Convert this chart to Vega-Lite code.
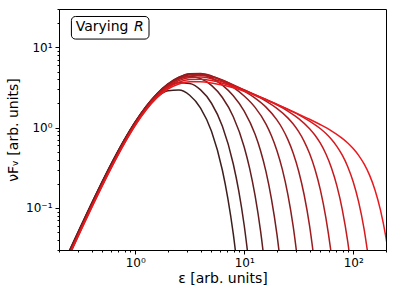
{
"$schema": "https://vega.github.io/schema/vega-lite/v6.json",
"width": 327, "height": 241,
"autosize": {"type": "none"},
"padding": {"left": 59, "top": 9, "right": 9, "bottom": 46},
"config": {"view": {"stroke": "#000", "strokeWidth": 1}, "font": "DejaVu Sans",
  "axis": {"grid": false, "domainColor": "#000", "domainWidth": 1, "tickColor": "#000", "tickWidth": 1, "labelColor": "#000", "labelFont": "DejaVu Sans", "labelFontSize": 12, "labelPadding": 3, "labelOverlap": false, "labelFlush": false, "titleFont": "DejaVu Sans", "titleFontSize": 14, "titleFontWeight": "normal", "titleColor": "#000"}},
"datasets": {
"curves": [
{"k":0,"x":0.2239,"y":0.02158},{"k":0,"x":0.3162,"y":0.05916},{"k":0,"x":0.4467,"y":0.1581},{"k":0,"x":0.631,"y":0.399},{"k":0,"x":0.7943,"y":0.7031},{"k":0,"x":1,"y":1.164},{"k":0,"x":1.259,"y":1.77},{"k":0,"x":1.585,"y":2.41},{"k":0,"x":1.995,"y":2.877},{"k":0,"x":2.512,"y":2.944},{"k":0,"x":3.162,"y":2.535},{"k":0,"x":3.981,"y":1.754},{"k":0,"x":5.012,"y":0.8995},{"k":0,"x":6.31,"y":0.2951},{"k":0,"x":7.079,"y":0.1321},{"k":0,"x":7.943,"y":0.04764},{"k":0,"x":8.913,"y":0.01285},
{"k":1,"x":0.2239,"y":0.02128},{"k":1,"x":0.3162,"y":0.05834},{"k":1,"x":0.4467,"y":0.1563},{"k":1,"x":0.631,"y":0.3963},{"k":1,"x":0.7943,"y":0.7031},{"k":1,"x":1,"y":1.176},{"k":1,"x":1.259,"y":1.819},{"k":1,"x":1.585,"y":2.565},{"k":1,"x":1.995,"y":3.236},{"k":1,"x":2.512,"y":3.615},{"k":1,"x":3.162,"y":3.54},{"k":1,"x":3.981,"y":2.951},{"k":1,"x":5.012,"y":2.013},{"k":1,"x":6.31,"y":1.04},{"k":1,"x":7.943,"y":0.3531},{"k":1,"x":8.913,"y":0.1632},{"k":1,"x":10,"y":0.06097},{"k":1,"x":11.22,"y":0.01715},
{"k":2,"x":0.2239,"y":0.02099},{"k":2,"x":0.3162,"y":0.05768},{"k":2,"x":0.4467,"y":0.1543},{"k":2,"x":0.631,"y":0.3931},{"k":2,"x":0.7943,"y":0.699},{"k":2,"x":1,"y":1.177},{"k":2,"x":1.259,"y":1.841},{"k":2,"x":1.585,"y":2.645},{"k":2,"x":1.995,"y":3.454},{"k":2,"x":2.512,"y":4.073},{"k":2,"x":3.162,"y":4.322},{"k":2,"x":3.981,"y":4.074},{"k":2,"x":5.012,"y":3.363},{"k":2,"x":6.31,"y":2.372},{"k":2,"x":7.943,"y":1.368},{"k":2,"x":10,"y":0.5754},{"k":2,"x":11.22,"y":0.3114},{"k":2,"x":12.59,"y":0.1423},{"k":2,"x":14.13,"y":0.05179},{"k":2,"x":15.85,"y":0.01403},
{"k":3,"x":0.2239,"y":0.02065},{"k":3,"x":0.3162,"y":0.05675},{"k":3,"x":0.4467,"y":0.1521},{"k":3,"x":0.631,"y":0.3873},{"k":3,"x":0.7943,"y":0.6902},{"k":3,"x":1,"y":1.164},{"k":3,"x":1.259,"y":1.832},{"k":3,"x":1.585,"y":2.649},{"k":3,"x":1.995,"y":3.507},{"k":3,"x":2.512,"y":4.241},{"k":3,"x":3.162,"y":4.663},{"k":3,"x":3.981,"y":4.633},{"k":3,"x":5.012,"y":4.156},{"k":3,"x":6.31,"y":3.384},{"k":3,"x":7.943,"y":2.494},{"k":3,"x":10,"y":1.607},{"k":3,"x":12.59,"y":0.8255},{"k":3,"x":14.13,"y":0.516},{"k":3,"x":15.85,"y":0.2832},{"k":3,"x":17.78,"y":0.1301},{"k":3,"x":19.95,"y":0.04764},{"k":3,"x":22.39,"y":0.01268},
{"k":4,"x":0.2239,"y":0.02032},{"k":4,"x":0.3162,"y":0.05585},{"k":4,"x":0.4467,"y":0.1496},{"k":4,"x":0.631,"y":0.3815},{"k":4,"x":0.7943,"y":0.6792},{"k":4,"x":1,"y":1.149},{"k":4,"x":1.259,"y":1.805},{"k":4,"x":1.585,"y":2.614},{"k":4,"x":1.995,"y":3.469},{"k":4,"x":2.512,"y":4.21},{"k":4,"x":3.162,"y":4.673},{"k":4,"x":3.981,"y":4.732},{"k":4,"x":5.012,"y":4.408},{"k":4,"x":6.31,"y":3.835},{"k":4,"x":7.943,"y":3.166},{"k":4,"x":10,"y":2.479},{"k":4,"x":12.59,"y":1.788},{"k":4,"x":15.85,"y":1.109},{"k":4,"x":17.78,"y":0.7943},{"k":4,"x":19.95,"y":0.5206},{"k":4,"x":22.39,"y":0.302},{"k":4,"x":25.12,"y":0.1486},{"k":4,"x":28.18,"y":0.05861},{"k":4,"x":31.62,"y":0.01722},
{"k":5,"x":0.2239,"y":0.02004},{"k":5,"x":0.3162,"y":0.05508},{"k":5,"x":0.4467,"y":0.1476},{"k":5,"x":0.631,"y":0.3763},{"k":5,"x":0.7943,"y":0.6699},{"k":5,"x":1,"y":1.132},{"k":5,"x":1.259,"y":1.777},{"k":5,"x":1.585,"y":2.574},{"k":5,"x":1.995,"y":3.401},{"k":5,"x":2.512,"y":4.11},{"k":5,"x":3.162,"y":4.553},{"k":5,"x":3.981,"y":4.634},{"k":5,"x":5.012,"y":4.378},{"k":5,"x":6.31,"y":3.915},{"k":5,"x":7.943,"y":3.38},{"k":5,"x":10,"y":2.849},{"k":5,"x":12.59,"y":2.33},{"k":5,"x":15.85,"y":1.8},{"k":5,"x":19.95,"y":1.249},{"k":5,"x":22.39,"y":0.9763},{"k":5,"x":25.12,"y":0.715},{"k":5,"x":28.18,"y":0.4808},{"k":5,"x":31.62,"y":0.2871},{"k":5,"x":35.48,"y":0.1461},{"k":5,"x":39.81,"y":0.05998},{"k":5,"x":44.67,"y":0.01841},
{"k":6,"x":0.2239,"y":0.01972},{"k":6,"x":0.3162,"y":0.0542},{"k":6,"x":0.4467,"y":0.1452},{"k":6,"x":0.631,"y":0.3703},{"k":6,"x":0.7943,"y":0.6592},{"k":6,"x":1,"y":1.114},{"k":6,"x":1.259,"y":1.747},{"k":6,"x":1.585,"y":2.523},{"k":6,"x":1.995,"y":3.325},{"k":6,"x":2.512,"y":3.994},{"k":6,"x":3.162,"y":4.399},{"k":6,"x":3.981,"y":4.477},{"k":6,"x":5.012,"y":4.259},{"k":6,"x":6.31,"y":3.858},{"k":6,"x":7.943,"y":3.403},{"k":6,"x":10,"y":2.957},{"k":6,"x":12.59,"y":2.542},{"k":6,"x":15.85,"y":2.141},{"k":6,"x":19.95,"y":1.738},{"k":6,"x":25.12,"y":1.324},{"k":6,"x":28.18,"y":1.108},{"k":6,"x":31.62,"y":0.8913},{"k":6,"x":35.48,"y":0.6761},{"k":6,"x":39.81,"y":0.4764},{"k":6,"x":44.67,"y":0.302},{"k":6,"x":50.12,"y":0.166},{"k":6,"x":56.23,"y":0.07499},{"k":6,"x":63.1,"y":0.02594},{"k":6,"x":70.79,"y":0.006215},
{"k":7,"x":0.2239,"y":0.01941},{"k":7,"x":0.3162,"y":0.05333},{"k":7,"x":0.4467,"y":0.1429},{"k":7,"x":0.631,"y":0.3643},{"k":7,"x":0.7943,"y":0.6486},{"k":7,"x":1,"y":1.095},{"k":7,"x":1.259,"y":1.715},{"k":7,"x":1.585,"y":2.468},{"k":7,"x":1.995,"y":3.232},{"k":7,"x":2.512,"y":3.845},{"k":7,"x":3.162,"y":4.206},{"k":7,"x":3.981,"y":4.266},{"k":7,"x":5.012,"y":4.073},{"k":7,"x":6.31,"y":3.735},{"k":7,"x":7.943,"y":3.337},{"k":7,"x":10,"y":2.947},{"k":7,"x":12.59,"y":2.577},{"k":7,"x":15.85,"y":2.241},{"k":7,"x":19.95,"y":1.919},{"k":7,"x":25.12,"y":1.611},{"k":7,"x":31.62,"y":1.297},{"k":7,"x":39.81,"y":0.9727},{"k":7,"x":44.67,"y":0.8054},{"k":7,"x":50.12,"y":0.6353},{"k":7,"x":56.23,"y":0.4699},{"k":7,"x":63.1,"y":0.3177},{"k":7,"x":70.79,"y":0.1901},{"k":7,"x":79.43,"y":0.09572},{"k":7,"x":89.13,"y":0.03811},{"k":7,"x":100,"y":0.01094},
{"k":8,"x":0.2239,"y":0.01914},{"k":8,"x":0.3162,"y":0.0526},{"k":8,"x":0.4467,"y":0.1409},{"k":8,"x":0.631,"y":0.3593},{"k":8,"x":0.7943,"y":0.6397},{"k":8,"x":1,"y":1.079},{"k":8,"x":1.259,"y":1.687},{"k":8,"x":1.585,"y":2.415},{"k":8,"x":1.995,"y":3.133},{"k":8,"x":2.512,"y":3.681},{"k":8,"x":3.162,"y":3.981},{"k":8,"x":3.981,"y":4.018},{"k":8,"x":5.012,"y":3.864},{"k":8,"x":6.31,"y":3.581},{"k":8,"x":7.943,"y":3.247},{"k":8,"x":10,"y":2.891},{"k":8,"x":12.59,"y":2.559},{"k":8,"x":15.85,"y":2.247},{"k":8,"x":19.95,"y":1.954},{"k":8,"x":25.12,"y":1.69},{"k":8,"x":31.62,"y":1.445},{"k":8,"x":39.81,"y":1.208},{"k":8,"x":50.12,"y":0.9683},{"k":8,"x":56.23,"y":0.8443},{"k":8,"x":63.1,"y":0.7161},{"k":8,"x":70.79,"y":0.5855},{"k":8,"x":79.43,"y":0.4539},{"k":8,"x":89.13,"y":0.3266},{"k":8,"x":100,"y":0.2118},{"k":8,"x":112.2,"y":0.119},{"k":8,"x":125.9,"y":0.05458},{"k":8,"x":141.3,"y":0.01885},
{"k":9,"x":0.2239,"y":0.01884},{"k":9,"x":0.3162,"y":0.05176},{"k":9,"x":0.4467,"y":0.1387},{"k":9,"x":0.631,"y":0.3536},{"k":9,"x":0.7943,"y":0.63},{"k":9,"x":1,"y":1.061},{"k":9,"x":1.259,"y":1.655},{"k":9,"x":1.585,"y":2.354},{"k":9,"x":1.995,"y":3.018},{"k":9,"x":2.512,"y":3.493},{"k":9,"x":3.162,"y":3.72},{"k":9,"x":3.981,"y":3.735},{"k":9,"x":5.012,"y":3.609},{"k":9,"x":6.31,"y":3.398},{"k":9,"x":7.943,"y":3.131},{"k":9,"x":10,"y":2.829},{"k":9,"x":12.59,"y":2.516},{"k":9,"x":15.85,"y":2.22},{"k":9,"x":19.95,"y":1.942},{"k":9,"x":25.12,"y":1.695},{"k":9,"x":31.62,"y":1.472},{"k":9,"x":39.81,"y":1.272},{"k":9,"x":50.12,"y":1.087},{"k":9,"x":63.1,"y":0.912},{"k":9,"x":79.43,"y":0.7361},{"k":9,"x":89.13,"y":0.6447},{"k":9,"x":100,"y":0.5503},{"k":9,"x":112.2,"y":0.4527},{"k":9,"x":125.9,"y":0.3535},{"k":9,"x":141.3,"y":0.2563},{"k":9,"x":158.5,"y":0.1678},{"k":9,"x":177.8,"y":0.09469},{"k":9,"x":199.5,"y":0.04343},{"k":9,"x":223.9,"y":0.01487}
],
"box": [{"x": 0.26, "x2": 1.339, "y": 12.67, "y2": 24.2}],
"lab1": [{"x": 0.2845, "y": 15.76, "t": "Varying"}],
"lab2": [{"x": 0.975, "y": 15.76, "t": "R"}]
},
"layer": [
{"data": {"name": "curves"},
 "mark": {"type": "line", "clip": true, "strokeWidth": 1.5, "interpolate": "monotone"},
 "encoding": {
  "x": {"field": "x", "type": "quantitative", "title": "ε [arb. units]",
   "scale": {"type": "log", "domain": [0.2, 200], "nice": false},
   "axis": {"values": [0.2,0.3,0.4,0.5,0.6,0.7,0.8,0.9,1,2,3,4,5,6,7,8,9,10,20,30,40,50,60,70,80,90,100,200],
    "labelExpr": "datum.value == 1 ? '10⁰' : datum.value == 10 ? '10¹' : datum.value == 100 ? '10²' : ''",
    "tickSize": {"condition": {"test": "indexof([1,10,100], datum.value) >= 0", "value": 4}, "value": 2},
    "titlePadding": 3}},
  "y": {"field": "y", "type": "quantitative", "title": "νFᵥ [arb. units]",
   "scale": {"type": "log", "domain": [0.03, 30], "nice": false},
   "axis": {"values": [0.03,0.04,0.05,0.06,0.07,0.08,0.09,0.1,0.2,0.3,0.4,0.5,0.6,0.7,0.8,0.9,1,2,3,4,5,6,7,8,9,10,20,30],
    "labelExpr": "datum.value == 0.1 ? '10⁻¹' : datum.value == 1 ? '10⁰' : datum.value == 10 ? '10¹' : ''",
    "tickSize": {"condition": {"test": "indexof([0.1,1,10], datum.value) >= 0", "value": 4}, "value": 2},
    "titlePadding": 5}},
  "color": {"field": "k", "type": "nominal", "legend": null,
   "scale": {"domain": [0,1,2,3,4,5,6,7,8,9], "range": ["#3c1e1e","#4f1d1e","#631d1e","#761c1e","#8a1c1e","#9d1b1e","#b01b1e","#c41a1e","#d71a1e","#eb191e"]}}
 }},
{"data": {"name": "box"},
 "mark": {"type": "rect", "fill": "white", "stroke": "#000", "strokeWidth": 1, "cornerRadius": 4},
 "encoding": {
  "x": {"field": "x", "type": "quantitative", "title": "ε [arb. units]"},
  "x2": {"field": "x2"},
  "y": {"field": "y", "type": "quantitative", "title": "νFᵥ [arb. units]"},
  "y2": {"field": "y2"}}},
{"data": {"name": "lab1"},
 "mark": {"type": "text", "align": "left", "baseline": "alphabetic", "fontSize": 14, "font": "DejaVu Sans", "color": "#000"},
 "encoding": {
  "x": {"field": "x", "type": "quantitative", "title": "ε [arb. units]"},
  "y": {"field": "y", "type": "quantitative", "title": "νFᵥ [arb. units]"},
  "text": {"field": "t"}}},
{"data": {"name": "lab2"},
 "mark": {"type": "text", "align": "left", "baseline": "alphabetic", "fontSize": 14, "font": "DejaVu Sans", "fontStyle": "italic", "color": "#000"},
 "encoding": {
  "x": {"field": "x", "type": "quantitative", "title": "ε [arb. units]"},
  "y": {"field": "y", "type": "quantitative", "title": "νFᵥ [arb. units]"},
  "text": {"field": "t"}}}
]
}
